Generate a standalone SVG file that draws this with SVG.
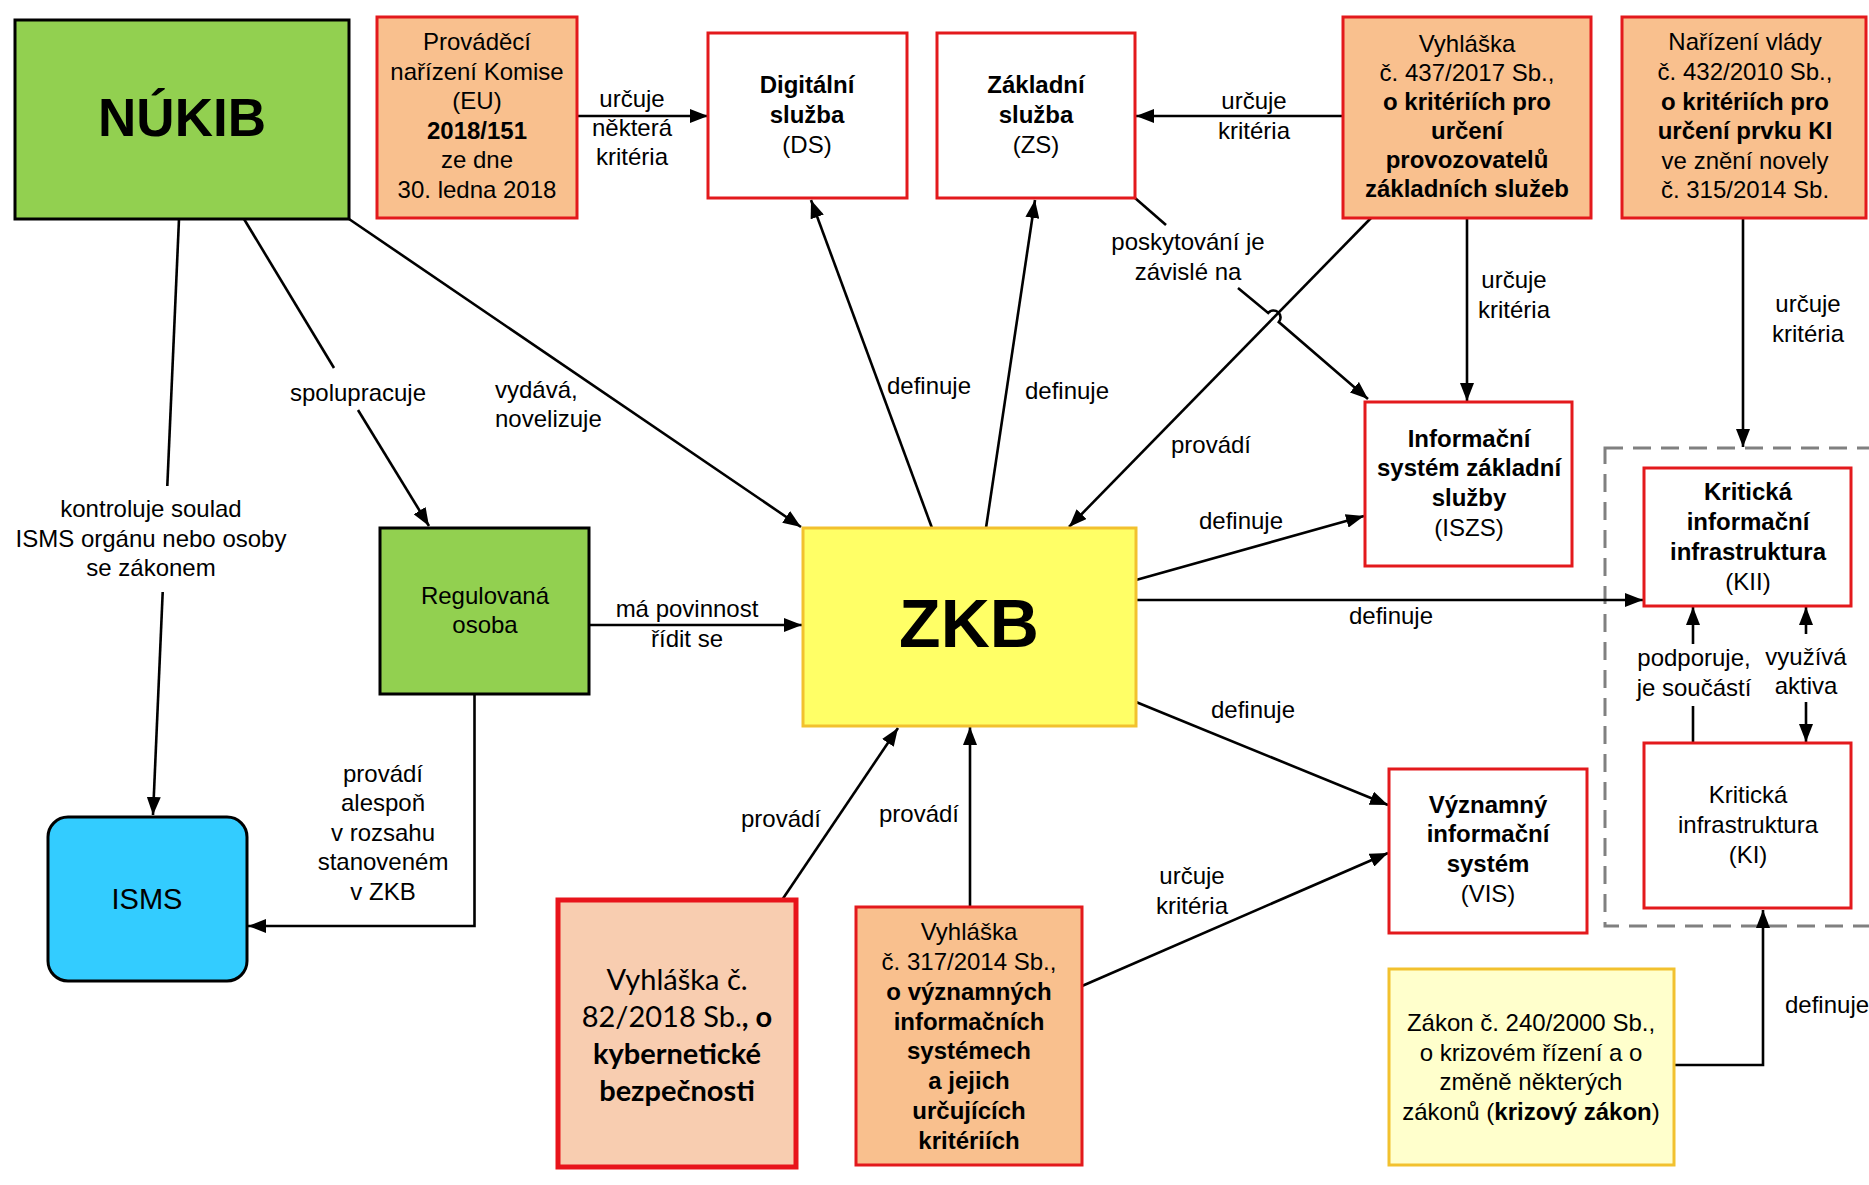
<svg xmlns="http://www.w3.org/2000/svg" width="1869" height="1185" viewBox="0 0 1869 1185">
<style>
.t{font-family:"Liberation Sans",Arial,sans-serif;font-size:24px;fill:#000;text-anchor:middle}
.s{text-anchor:start}
.b{font-weight:bold}
.e{stroke:#000;stroke-width:2.6;fill:none}
.a{marker-end:url(#ah)}
.red{stroke:#E3191C;stroke-width:3}
.or{fill:#F9C08E}
.wh{fill:#fff}
.gr{fill:#92D050;stroke:#000;stroke-width:3}
.cal{font-family:Lato,"Open Sans",sans-serif;font-size:29px;fill:#000;text-anchor:middle}
</style>
<defs>
<marker id="ah" viewBox="0 0 18 14" refX="18" refY="7" markerWidth="18" markerHeight="14" markerUnits="userSpaceOnUse" orient="auto-start-reverse">
<path d="M0,0 L18,7 L0,14 z" fill="#000"/>
</marker>
</defs>
<rect width="1869" height="1185" fill="#fff"/>

<g id="group-ki">
<rect x="1605" y="448" width="300" height="478" fill="none" stroke="#808080" stroke-width="3" stroke-dasharray="18 10"/>
</g>

<g id="connectors">
<!-- NUKIB -> ISMS -->
<line class="e" x1="179" y1="219" x2="167.3" y2="486"/>
<line class="e a" x1="162.7" y1="592" x2="153" y2="815"/>
<text class="t" x="151" y="517">kontroluje soulad</text>
<text class="t" x="151" y="547">ISMS orgánu nebo osoby</text>
<text class="t" x="151" y="576">se zákonem</text>
<!-- NUKIB -> Regulovana -->
<line class="e" x1="244" y1="219" x2="334" y2="368"/>
<line class="e a" x1="358" y1="410" x2="429" y2="526"/>
<text class="t" x="358" y="401">spolupracuje</text>
<!-- NUKIB -> ZKB -->
<line class="e a" x1="349" y1="219" x2="801" y2="527"/>
<text class="t s" x="495" y="398">vydává,</text>
<text class="t s" x="495" y="427">novelizuje</text>
<!-- Provadeci -> DS -->
<line class="e a" x1="577" y1="116" x2="708" y2="116"/>
<text class="t" x="632" y="107">určuje</text>
<text class="t" x="632" y="136">některá</text>
<text class="t" x="632" y="165">kritéria</text>
<!-- 437 -> ZS -->
<line class="e a" x1="1343" y1="116" x2="1136" y2="116"/>
<text class="t" x="1254" y="109">určuje</text>
<text class="t" x="1254" y="139">kritéria</text>
<!-- ZKB -> DS -->
<line class="e a" x1="932" y1="528" x2="811" y2="200"/>
<text class="t" x="929" y="394">definuje</text>
<!-- ZKB -> ZS -->
<line class="e a" x1="986" y1="528" x2="1035" y2="200"/>
<text class="t" x="1067" y="399">definuje</text>
<!-- ZS -> ISZS -->
<line class="e" x1="1135" y1="198" x2="1166" y2="225"/>
<path class="e a" d="M1238,288 L1268.2,312.9 A7,7 0 0 1 1278.8,322.1 L1368,399"/>
<text class="t" x="1188" y="250">poskytování je</text>
<text class="t" x="1188" y="280">závislé na</text>
<!-- 437 -> ZKB -->
<line class="e a" x1="1371" y1="218" x2="1069" y2="527"/>
<text class="t" x="1211" y="453">provádí</text>
<!-- 437 -> ISZS -->
<line class="e a" x1="1467" y1="218" x2="1467" y2="401"/>
<text class="t" x="1514" y="288">určuje</text>
<text class="t" x="1514" y="318">kritéria</text>
<!-- Narizeni -> group -->
<line class="e a" x1="1743" y1="218" x2="1743" y2="447"/>
<text class="t" x="1808" y="312">určuje</text>
<text class="t" x="1808" y="342">kritéria</text>
<!-- ZKB -> ISZS -->
<line class="e a" x1="1136" y1="580" x2="1364" y2="516"/>
<text class="t" x="1241" y="529">definuje</text>
<!-- ZKB -> KII -->
<line class="e a" x1="1136" y1="600" x2="1643" y2="600"/>
<text class="t" x="1391" y="624">definuje</text>
<!-- ZKB -> VIS -->
<line class="e a" x1="1136" y1="702" x2="1388" y2="805"/>
<text class="t" x="1253" y="718">definuje</text>
<!-- 317 -> VIS -->
<line class="e a" x1="1082" y1="986" x2="1388" y2="853"/>
<text class="t" x="1192" y="884">určuje</text>
<text class="t" x="1192" y="914">kritéria</text>
<!-- 317 -> ZKB -->
<line class="e a" x1="970" y1="907" x2="970" y2="727"/>
<text class="t" x="919" y="822">provádí</text>
<!-- 82 -> ZKB -->
<line class="e a" x1="782" y1="900" x2="898" y2="728"/>
<text class="t" x="781" y="827">provádí</text>
<!-- Regulovana -> ZKB -->
<line class="e a" x1="589" y1="625" x2="802" y2="625"/>
<text class="t" x="687" y="617">má povinnost</text>
<text class="t" x="687" y="647">řídit se</text>
<!-- Regulovana -> ISMS -->
<polyline class="e a" points="474.5,694 474.5,926 248,926"/>
<text class="t" x="383" y="782">provádí</text>
<text class="t" x="383" y="811">alespoň</text>
<text class="t" x="383" y="841">v rozsahu</text>
<text class="t" x="383" y="870">stanoveném</text>
<text class="t" x="383" y="900">v ZKB</text>
<!-- KI -> KII podporuje -->
<line class="e" x1="1693" y1="743" x2="1693" y2="706"/>
<line class="e a" x1="1693" y1="644" x2="1693" y2="607"/>
<text class="t" x="1694" y="666">podporuje,</text>
<text class="t" x="1694" y="696">je součástí</text>
<!-- KII <-> KI vyuziva -->
<line class="e a" x1="1806" y1="634" x2="1806" y2="607"/>
<line class="e a" x1="1806" y1="702" x2="1806" y2="742"/>
<text class="t" x="1806" y="665">využívá</text>
<text class="t" x="1806" y="694">aktiva</text>
<!-- Zakon -> KI -->
<polyline class="e a" points="1674,1065 1763,1065 1763,910"/>
<text class="t s" x="1785" y="1013">definuje</text>
</g>

<g id="nukib">
<rect class="gr" x="15" y="20" width="334" height="199"/>
<text class="t b" x="182" y="136" style="font-size:53px">NÚKIB</text>
</g>

<g id="provadeci">
<rect class="or red" x="377" y="17" width="200" height="201"/>
<text class="t" x="477" y="50">Prováděcí</text>
<text class="t" x="477" y="79.5">nařízení Komise</text>
<text class="t" x="477" y="109">(EU)</text>
<text class="t b" x="477" y="138.5">2018/151</text>
<text class="t" x="477" y="168">ze dne</text>
<text class="t" x="477" y="197.5">30. ledna 2018</text>
</g>

<g id="ds">
<rect class="wh red" x="708" y="33" width="199" height="165"/>
<text class="t b" x="807" y="93">Digitální</text>
<text class="t b" x="807" y="123">služba</text>
<text class="t" x="807" y="153">(DS)</text>
</g>

<g id="zs">
<rect class="wh red" x="937" y="33" width="198" height="165"/>
<text class="t b" x="1036" y="93">Základní</text>
<text class="t b" x="1036" y="123">služba</text>
<text class="t" x="1036" y="153">(ZS)</text>
</g>

<g id="vyhlaska437">
<rect class="or red" x="1343" y="17" width="248" height="201"/>
<text class="t" x="1467" y="52">Vyhláška</text>
<text class="t" x="1467" y="81">č. 437/2017 Sb.,</text>
<text class="t b" x="1467" y="110">o kritériích pro</text>
<text class="t b" x="1467" y="139">určení</text>
<text class="t b" x="1467" y="168">provozovatelů</text>
<text class="t b" x="1467" y="197">základních služeb</text>
</g>

<g id="narizeni">
<rect class="or red" x="1622" y="17" width="244" height="201"/>
<text class="t" x="1745" y="50">Nařízení vlády</text>
<text class="t" x="1745" y="80">č. 432/2010 Sb.,</text>
<text class="t b" x="1745" y="110">o kritériích pro</text>
<text class="t b" x="1745" y="139">určení prvku KI</text>
<text class="t" x="1745" y="169">ve znění novely</text>
<text class="t" x="1745" y="198">č. 315/2014 Sb.</text>
</g>

<g id="iszs">
<rect class="wh red" x="1365" y="402" width="207" height="164"/>
<text class="t b" x="1469" y="447">Informační</text>
<text class="t b" x="1469" y="476">systém základní</text>
<text class="t b" x="1469" y="506">služby</text>
<text class="t" x="1469" y="536">(ISZS)</text>
</g>

<g id="kii">
<rect class="wh red" x="1644" y="468" width="207" height="138"/>
<text class="t b" x="1748" y="500">Kritická</text>
<text class="t b" x="1748" y="530">informační</text>
<text class="t b" x="1748" y="560">infrastruktura</text>
<text class="t" x="1748" y="590">(KII)</text>
</g>

<g id="ki">
<rect class="wh red" x="1644" y="743" width="207" height="165"/>
<text class="t" x="1748" y="803">Kritická</text>
<text class="t" x="1748" y="833">infrastruktura</text>
<text class="t" x="1748" y="863">(KI)</text>
</g>

<g id="zkb">
<rect x="803" y="528" width="333" height="198" fill="#FFFF66" stroke="#F2C12E" stroke-width="3"/>
<text class="t b" x="969" y="647" style="font-size:68px">ZKB</text>
</g>

<g id="regulovana">
<rect class="gr" x="380" y="528" width="209" height="166"/>
<text class="t" x="485" y="604">Regulovaná</text>
<text class="t" x="485" y="633">osoba</text>
</g>

<g id="isms">
<rect x="48" y="817" width="199" height="164" rx="20" fill="#33CCFF" stroke="#000" stroke-width="3"/>
<text class="t" x="147" y="909" style="font-size:29px">ISMS</text>
</g>

<g id="vyhlaska82">
<rect x="558" y="900" width="238" height="267" fill="#F8CDB0" stroke="#E8141B" stroke-width="5"/>
<text class="cal" x="677" y="990">Vyhláška č.</text>
<text class="cal" x="677" y="1027">82/2018 Sb.<tspan class="b">, o</tspan></text>
<text class="cal b" x="677" y="1064">kybernetické</text>
<text class="cal b" x="677" y="1101">bezpečnosti</text>
</g>

<g id="vyhlaska317">
<rect class="or red" x="856" y="907" width="226" height="258"/>
<text class="t" x="969" y="940">Vyhláška</text>
<text class="t" x="969" y="970">č. 317/2014 Sb.,</text>
<text class="t b" x="969" y="1000">o významných</text>
<text class="t b" x="969" y="1030">informačních</text>
<text class="t b" x="969" y="1059">systémech</text>
<text class="t b" x="969" y="1089">a jejich</text>
<text class="t b" x="969" y="1119">určujících</text>
<text class="t b" x="969" y="1149">kritériích</text>
</g>

<g id="vis">
<rect class="wh red" x="1389" y="769" width="198" height="164"/>
<text class="t b" x="1488" y="813">Významný</text>
<text class="t b" x="1488" y="842">informační</text>
<text class="t b" x="1488" y="872">systém</text>
<text class="t" x="1488" y="902">(VIS)</text>
</g>

<g id="zakon240">
<rect x="1389" y="969" width="285" height="196" fill="#FFFFCC" stroke="#F2C12E" stroke-width="3"/>
<text class="t" x="1531" y="1031">Zákon č. 240/2000 Sb.,</text>
<text class="t" x="1531" y="1061">o krizovém řízení a o</text>
<text class="t" x="1531" y="1090">změně některých</text>
<text class="t" x="1531" y="1120">zákonů (<tspan class="b">krizový zákon</tspan>)</text>
</g>
</svg>
